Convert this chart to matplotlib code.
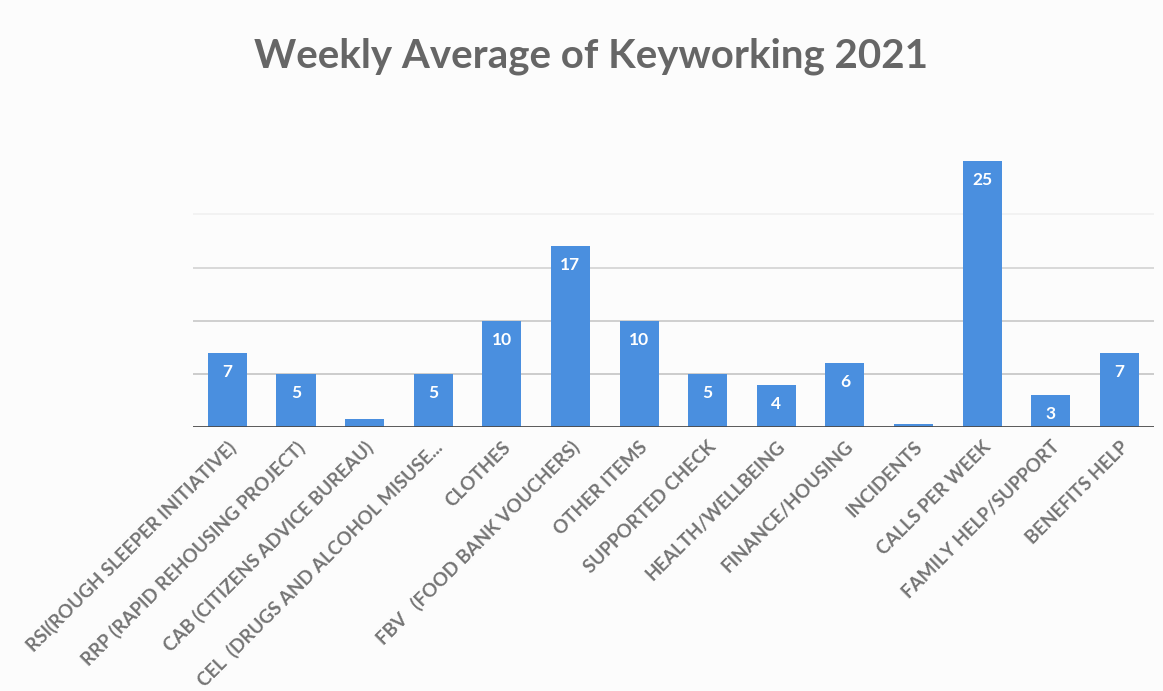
import matplotlib.pyplot as plt

# data
categories = [
    "RSI(ROUGH SLEEPER INITIATIVE)",
    "RRP (RAPID REHOUSING PROJECT)",
    "CAB (CITIZENS ADVICE BUREAU)",
    "CEL  (DRUGS AND ALCOHOL MISUSE...",
    "CLOTHES",
    "FBV   (FOOD BANK VOUCHERS)",
    "OTHER ITEMS",
    "SUPPORTED CHECK",
    "HEALTH/WELLBEING",
    "FINANCE/HOUSING",
    "INCIDENTS",
    "CALLS PER WEEK",
    "FAMILY HELP/SUPPORT",
    "BENEFITS HELP",
]
values = [7, 5, 0.8, 5, 10, 17, 10, 5, 4, 6, 0.3, 25, 3, 7]
title = "Weekly Average of Keyworking 2021"

bar_color = "#4A8FDF"
text_gray = "#747474"

fig = plt.figure(figsize=(11.63, 6.91), dpi=100)
fig.patch.set_facecolor("#fcfcfc")
ax = fig.add_axes([0.166, 0.382, 0.826, 0.40])
ax.set_facecolor("none")

x = list(range(len(categories)))
bars = ax.bar(x, values, width=0.57, color=bar_color, zorder=3)

# value labels inside the bars (skip the tiny ones)
for rect, v in zip(bars, values):
    if v < 2:
        continue
    ax.annotate(
        f"{v:g}",
        (rect.get_x() + rect.get_width() / 2, v),
        textcoords="offset points",
        xytext=(0, -8),
        ha="center",
        va="top",
        color="white",
        fontsize=12.5,
        fontweight="bold",
        family="Lato",
        zorder=4,
    )

ax.set_xlim(-0.5, len(categories) - 0.5)
ax.set_ylim(0, 26)

# gridlines
for g, c in [(5, "#c4c4c4"), (10, "#c8c8c8"), (15, "#d2d2d2"), (20, "#f0f0f0")]:
    ax.axhline(g, color=c, linewidth=1.2, zorder=1)
ax.axhline(0, color="#4a4a4a", linewidth=2, zorder=5)

for spine in ax.spines.values():
    spine.set_visible(False)
ax.set_yticks([])
ax.set_xticks(x)
ax.set_xticklabels(
    categories,
    rotation=45,
    ha="right",
    va="top",
    rotation_mode="anchor",
    fontsize=13.5,
    color=text_gray,
    family="Lato",
    fontweight="bold",
)
ax.tick_params(axis="x", length=0, pad=8)

fig.text(
    0.508,
    0.918,
    title,
    ha="center",
    va="center",
    fontsize=29,
    fontweight="bold",
    color="#666666",
    family="Lato",
)

fig.savefig("out.png", dpi=100, facecolor=fig.get_facecolor())
